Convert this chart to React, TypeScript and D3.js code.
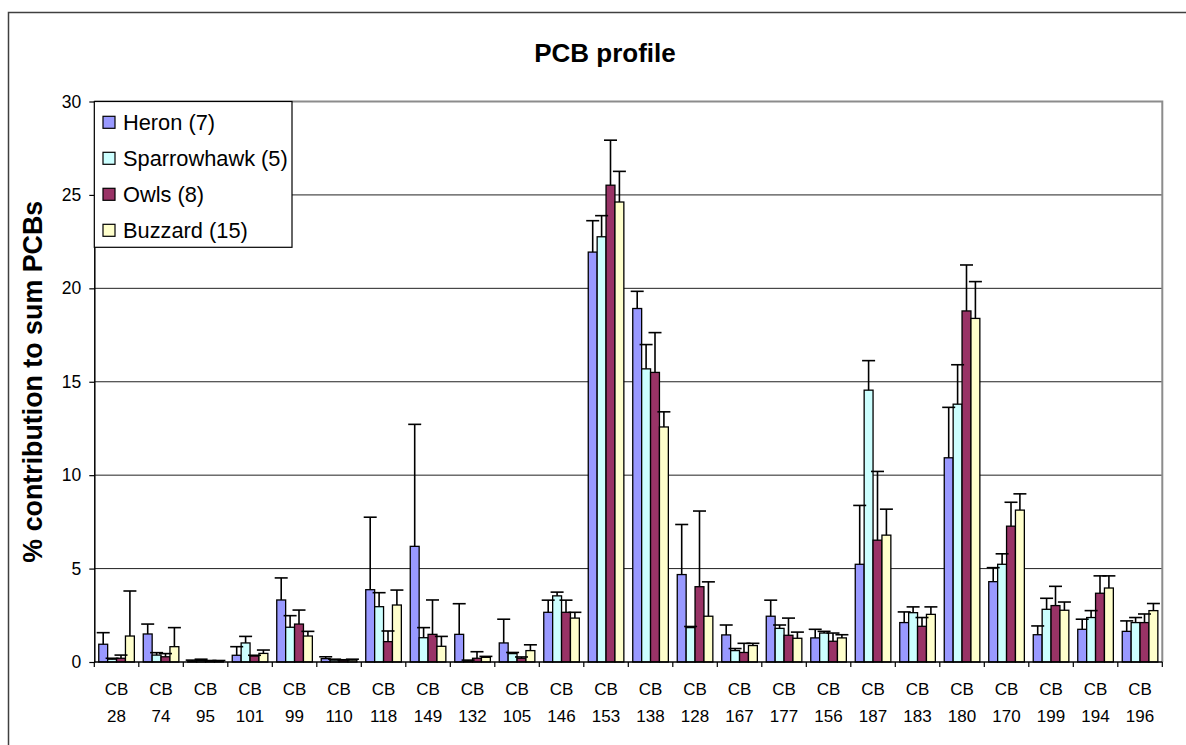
import * as React from 'react'
import * as d3 from 'd3'

const categories = ['28', '74', '95', '101', '99', '110', '118', '149', '132', '105', '146', '153',
    '138', '128', '167', '177', '156', '187', '183', '180', '170', '199', '194', '196']

const seriesNames = ['Heron (7)', 'Sparrowhawk (5)', 'Owls (8)', 'Buzzard (15)']
const seriesColors = ['#9999FF', '#CCFFFF', '#993366', '#FFFFCC']

// mean % contribution per congener
const heron = [0.95, 1.5, 0.05, 0.36, 3.32, 0.18, 3.87, 6.19, 1.48, 1.02, 2.66, 21.94,
    18.92, 4.68, 1.45, 2.45, 1.29, 5.23, 2.11, 10.93, 4.3, 1.46, 1.75, 1.64]
const sparrowhawk = [0.15, 0.37, 0.08, 1.02, 1.86, 0.1, 2.96, 1.3, 0.05, 0.45, 3.54, 22.76,
    15.69, 1.84, 0.61, 1.8, 1.55, 14.55, 2.64, 13.8, 5.23, 2.82, 2.38, 2.11]
const owls = [0.2, 0.28, 0.05, 0.32, 2.03, 0.1, 1.09, 1.48, 0.2, 0.2, 2.66, 25.52,
    15.5, 4.03, 0.51, 1.43, 1.11, 6.52, 1.91, 18.79, 7.27, 3.02, 3.68, 2.11]
const buzzard = [1.39, 0.82, 0.05, 0.46, 1.39, 0.1, 3.05, 0.84, 0.25, 0.61, 2.35, 24.62,
    12.58, 2.45, 0.88, 1.27, 1.29, 6.79, 2.55, 18.39, 8.13, 2.77, 3.96, 2.75]

// standard deviations (plus error bars)
const heronSd = [0.62, 0.53, 0.05, 0.46, 1.18, 0.1, 3.88, 6.53, 1.64, 1.27, 0.65, 1.68,
    0.92, 2.68, 0.53, 0.86, 0.46, 3.15, 0.57, 2.7, 0.75, 0.47, 0.54, 0.56]
const sparrowhawkSd = [0.05, 0.13, 0.07, 0.35, 0.62, 0.05, 0.75, 0.54, 0.05, 0.06, 0.2, 1.13,
    1.3, 0.06, 0.11, 0.18, 0.09, 1.58, 0.31, 2.11, 0.56, 0.59, 0.37, 0.27]
const owlsSd = [0.17, 0.17, 0.03, 0.04, 0.75, 0.02, 0.57, 1.84, 0.35, 0.07, 0.65, 2.41,
    2.13, 4.05, 0.49, 0.92, 0.44, 3.68, 0.47, 2.46, 1.28, 1.03, 0.93, 0.46]
const buzzardSd = [2.41, 1.02, 0.03, 0.18, 0.25, 0.05, 0.8, 0.53, 0.05, 0.31, 0.31, 1.64,
    0.81, 1.84, 0.12, 0.33, 0.17, 1.39, 0.4, 1.97, 0.87, 0.44, 0.65, 0.38]

const yTicks = [0, 5, 10, 15, 20, 25, 30]

const values = [heron, sparrowhawk, owls, buzzard]
const sds = [heronSd, sparrowhawkSd, owlsSd, buzzardSd]

interface Bar {
    cat: string
    series: number
    value: number
    sd: number
}

const FONT = '"Liberation Sans", Arial, Helvetica, sans-serif'

export default function App() {
    const ref = React.useRef<SVGSVGElement | null>(null)

    React.useEffect(() => {
        if (!ref.current)
            return
        const svg = d3.select(ref.current)
        svg.selectAll('*').remove()

        const left = 94.3, right = 1162.3, top = 101.5, bottom = 662

        const x = d3.scaleBand<string>().domain(categories).range([left, right])
        const bw = x.bandwidth()
        const xs = d3.scaleBand<number>().domain([0, 1, 2, 3]).range([bw * 0.1, bw * 0.9])
        const y = d3.scaleLinear().domain([0, 30]).range([bottom, top])

        const bars: Bar[] = []
        categories.forEach((cat, i) => {
            values.forEach((vals, s) => bars.push({ cat, series: s, value: vals[i], sd: sds[s][i] }))
        })

        // outer chart border
        svg.append('rect')
            .attr('x', 8.5).attr('y', 12.5)
            .attr('width', 1300).attr('height', 900)
            .attr('fill', 'none').attr('stroke', '#404040').attr('stroke-width', 1.5)

        // title
        svg.append('text')
            .attr('x', 605).attr('y', 62)
            .attr('text-anchor', 'middle')
            .attr('font-family', FONT).attr('font-size', 26).attr('font-weight', 'bold')
            .text('PCB profile')

        // y title
        svg.append('text')
            .attr('transform', `translate(42,${(top + bottom) / 2}) rotate(-90)`)
            .attr('text-anchor', 'middle')
            .attr('font-family', FONT).attr('font-size', 26.8).attr('font-weight', 'bold')
            .text('% contribution to sum PCBs')

        // gridlines
        svg.append('g')
            .selectAll('line')
            .data(yTicks.filter(t => t > 0 && t < 30))
            .enter().append('line')
            .attr('x1', left).attr('x2', right)
            .attr('y1', d => y(d)).attr('y2', d => y(d))
            .attr('stroke', '#222').attr('stroke-width', 1)

        // plot area border (top / right)
        svg.append('path')
            .attr('d', `M${left},${top}H${right}V${bottom}`)
            .attr('fill', 'none').attr('stroke', '#8c8c8c').attr('stroke-width', 2)

        // bars
        svg.append('g')
            .selectAll('rect')
            .data(bars)
            .enter().append('rect')
            .attr('x', d => (x(d.cat) as number) + (xs(d.series) as number))
            .attr('width', xs.bandwidth())
            .attr('y', d => y(d.value))
            .attr('height', d => bottom - y(d.value))
            .attr('fill', d => seriesColors[d.series])
            .attr('stroke', '#000').attr('stroke-width', 1.3)

        // error bars
        const err = svg.append('g').attr('stroke', '#000').attr('stroke-width', 1.6)
        const cx = (d: Bar) => (x(d.cat) as number) + (xs(d.series) as number) + xs.bandwidth() / 2
        err.selectAll('line.v')
            .data(bars)
            .enter().append('line')
            .attr('class', 'v')
            .attr('x1', cx).attr('x2', cx)
            .attr('y1', d => y(d.value)).attr('y2', d => y(d.value + d.sd))
        err.selectAll('line.cap')
            .data(bars)
            .enter().append('line')
            .attr('class', 'cap')
            .attr('x1', d => cx(d) - 6.5).attr('x2', d => cx(d) + 6.5)
            .attr('y1', d => y(d.value + d.sd)).attr('y2', d => y(d.value + d.sd))

        // y axis
        const yAxis = svg.append('g')
            .attr('transform', `translate(${left},0)`)
            .call(d3.axisLeft(y).tickValues(yTicks).tickSize(5).tickPadding(8).tickSizeOuter(0))
        yAxis.select('.domain').attr('stroke', '#000').attr('stroke-width', 1.5)
        yAxis.selectAll('.tick line').attr('stroke', '#000').attr('stroke-width', 1.2)
        yAxis.selectAll('.tick text')
            .attr('font-family', FONT).attr('font-size', 17.5).attr('fill', '#000')

        // x axis
        const xAxis = svg.append('g')
        xAxis.append('line')
            .attr('x1', left).attr('x2', right)
            .attr('y1', bottom).attr('y2', bottom)
            .attr('stroke', '#000').attr('stroke-width', 1.5)
        xAxis.selectAll('line.tick')
            .data([...categories.map(c => x(c) as number), right])
            .enter().append('line')
            .attr('class', 'tick')
            .attr('x1', d => d).attr('x2', d => d)
            .attr('y1', bottom).attr('y2', bottom + 5)
            .attr('stroke', '#000').attr('stroke-width', 1.2)
        const labels = xAxis.selectAll('text')
            .data(categories)
            .enter().append('text')
            .attr('text-anchor', 'middle')
            .attr('font-family', FONT).attr('font-size', 17).attr('fill', '#000')
        labels.append('tspan')
            .attr('x', d => (x(d) as number) + bw / 2).attr('y', 695)
            .text('CB')
        labels.append('tspan')
            .attr('x', d => (x(d) as number) + bw / 2).attr('y', 721.5)
            .text(d => d)

        // legend
        const legend = svg.append('g')
        legend.append('rect')
            .attr('x', left).attr('y', top)
            .attr('width', 292 - left).attr('height', 247.3 - top)
            .attr('fill', '#fff').attr('stroke', '#000').attr('stroke-width', 1.2)
        const item = legend.selectAll('g')
            .data(seriesNames)
            .enter().append('g')
            .attr('transform', (d, i) => `translate(0,${122.3 + i * 36})`)
        item.append('rect')
            .attr('x', 103).attr('y', -6)
            .attr('width', 12).attr('height', 12)
            .attr('fill', (d, i) => seriesColors[i])
            .attr('stroke', '#000').attr('stroke-width', 1.2)
        item.append('text')
            .attr('x', 123).attr('y', 7.8)
            .attr('font-family', FONT).attr('font-size', 21.8).attr('fill', '#000')
            .text(d => d)
    }, [])

    return (
        <svg
            ref={ref}
            width={1186}
            height={745}
            style={{ position: 'absolute', left: 0, top: 0, background: '#fff' }} />
    )
}
